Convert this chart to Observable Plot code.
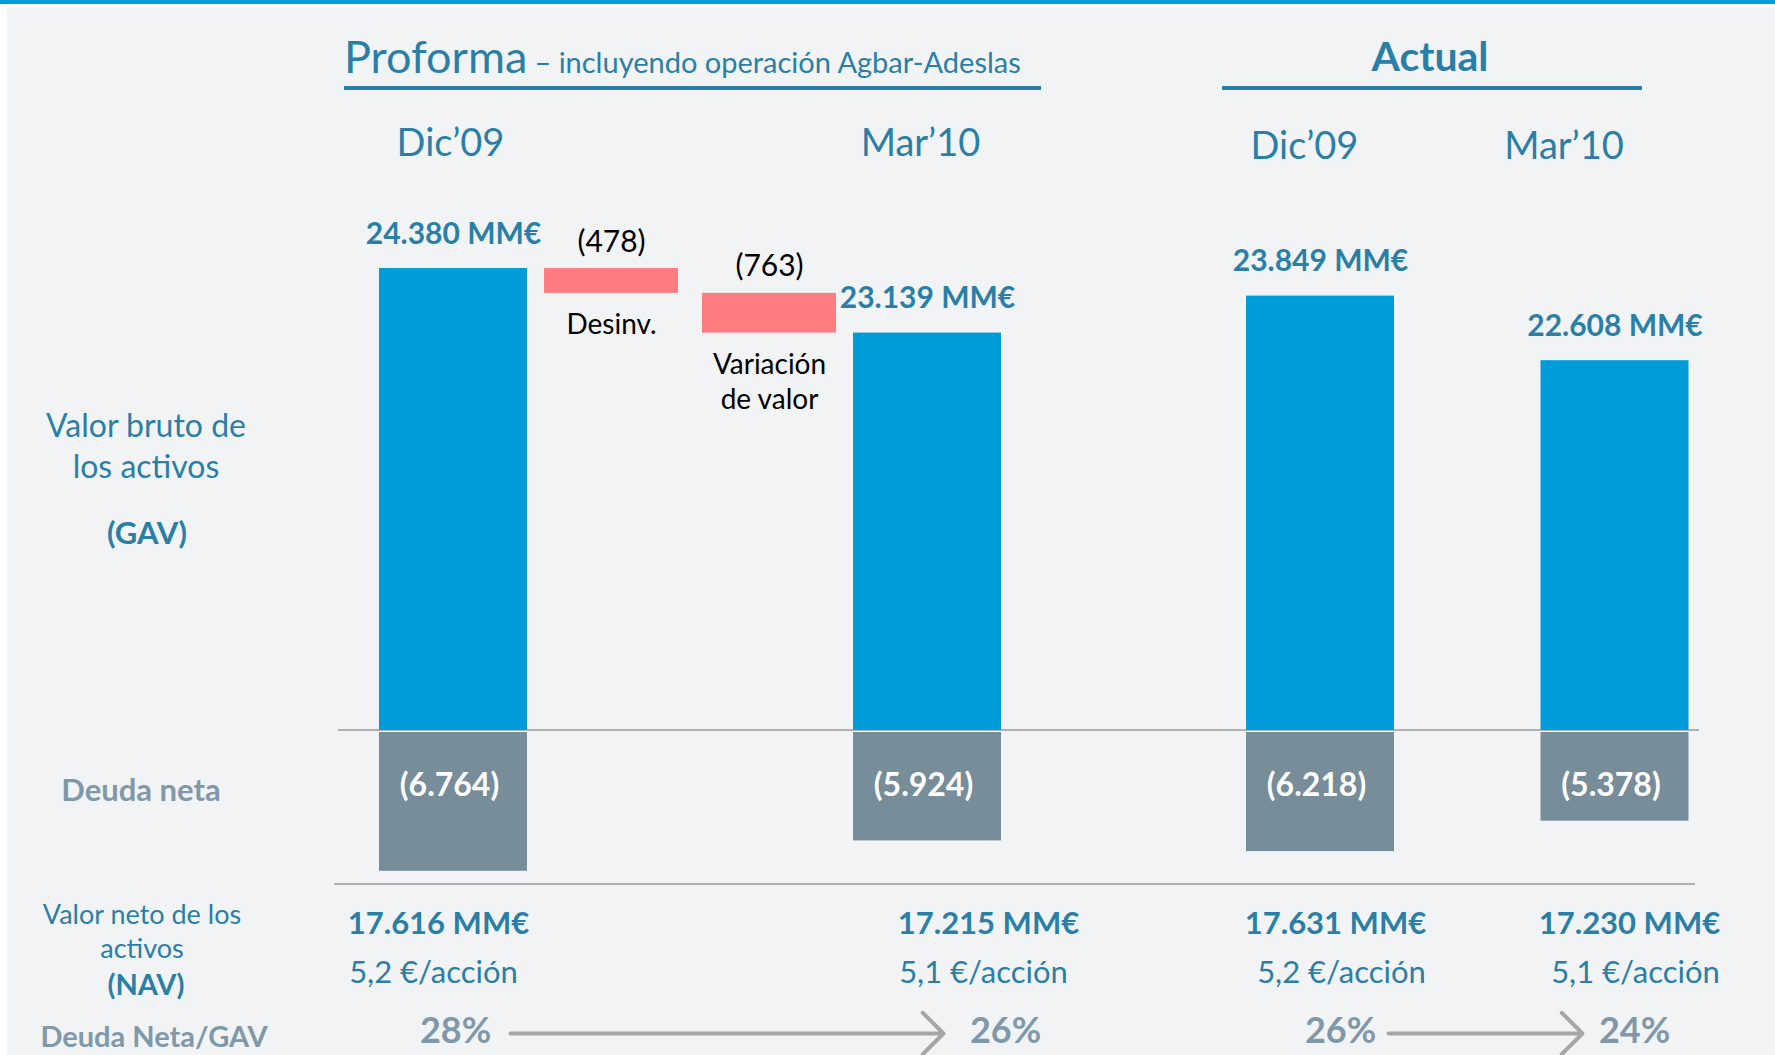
<!DOCTYPE html>
<html>
<head>
<meta charset="utf-8">
<script src="https://cdn.jsdelivr.net/npm/d3@7"></script>
<script src="https://cdn.jsdelivr.net/npm/@observablehq/plot@0.6"></script>
<style>
  html, body { margin: 0; padding: 0; background: #ffffff; }
  #root { position: relative; width: 1775px; height: 1055px; overflow: hidden; background: #ffffff; font-family: Lato, "Open Sans", sans-serif; }
  .holder { position: absolute; }
</style>
</head>
<body>
<div id="root"></div>
<script>
// ---------------- DATA ----------------
const groups = ["Proforma", "Actual"];
const periods = ["Dic’09", "Mar’10"];
// order: Proforma Dic'09, Proforma Mar'10, Actual Dic'09, Actual Mar'10
const gavValues = [24380, 23139, 23849, 22608];        // MM€
const netDebtValues = [6764, 5924, 6218, 5378];        // MM€
const navValues = [17616, 17215, 17631, 17230];        // MM€
const navPerShare = [5.2, 5.1, 5.2, 5.1];              // €/acción
const debtToGav = [28, 26, 26, 24];                    // %
const bridgeSteps = ["Desinv.", "Variación\nde valor"];
const bridgeValues = [-478, -763];                     // MM€

// ---------------- STYLE ----------------
const BLUE = "#009bd9", RED = "#ff7c80", DEBT = "#778d9a";
const TEAL = "#2a7fa6", GREY = "#7f98aa", ARROW = "#a6a6a6";
const FONT = "Lato, 'Open Sans', sans-serif";

const es = d3.formatLocale({decimal: ",", thousands: ".", grouping: [3], currency: ["", "€"]});
const fInt = es.format(",d");
const f1 = es.format(".1f");

const rows = gavValues.map((v, i) => ({
  group: groups[Math.floor(i / 2)],
  period: periods[i % 2],
  gav: v,
  debt: netDebtValues[i],
  nav: navValues[i],
  perShare: navPerShare[i],
  ratio: debtToGav[i]
}));

// waterfall (proforma bridge Dic'09 -> Mar'10)
let running = rows[0].gav;
const bridge = bridgeSteps.map((s, i) => {
  const start = running;
  running += bridgeValues[i];
  return {col: s, start, end: running, delta: bridgeValues[i]};
});

const root = document.getElementById("root");

// ---------------- BACKGROUND / LABELS ----------------
const bg = d3.select(root).append("svg")
  .attr("width", 1775).attr("height", 1055)
  .style("position", "absolute").style("left", "0px").style("top", "0px")
  .style("font-family", FONT);
bg.append("rect").attr("width", 1775).attr("height", 1055).attr("fill", "#ffffff");
bg.append("rect").attr("width", 1775).attr("height", 4).attr("fill", "#009cda");
bg.append("rect").attr("x", 7).attr("y", 7).attr("width", 1768).attr("height", 1048).attr("fill", "#f2f3f5");

const head = bg.append("text").attr("x", 344).attr("y", 73).attr("fill", TEAL);
head.append("tspan").attr("font-size", 45).text(groups[0]);
head.append("tspan").attr("font-size", 29).attr("dx", 7).text("– incluyendo operación Agbar-Adeslas");
bg.append("rect").attr("x", 344).attr("y", 86).attr("width", 697).attr("height", 4).attr("fill", TEAL);
bg.append("text").attr("x", 1430).attr("y", 71).attr("text-anchor", "middle")
  .attr("font-size", 41).attr("font-weight", "bold").attr("fill", TEAL).text(groups[1]);
bg.append("rect").attr("x", 1222).attr("y", 86).attr("width", 420).attr("height", 4).attr("fill", TEAL);

bg.append("line").attr("x1", 338).attr("x2", 1699).attr("y1", 730).attr("y2", 730)
  .attr("stroke", "#9b9b9b").attr("stroke-width", 1.6);
bg.append("line").attr("x1", 334).attr("x2", 1695).attr("y1", 884).attr("y2", 884)
  .attr("stroke", "#9b9b9b").attr("stroke-width", 1.6);

// multi-line row labels, each one a single text element
const rowLabels = [
  {lines: ["Valor bruto de", "los activos"], x: 146, y: 437, gap: 41, s: 32, w: "normal", c: TEAL},
  {lines: ["(GAV)"], x: 147, y: 544, gap: 0, s: 31, w: "bold", c: TEAL},
  {lines: ["Deuda neta"], x: 141, y: 801, gap: 0, s: 31, w: "bold", c: GREY},
  {lines: ["Valor neto de los", "activos"], x: 142, y: 924, gap: 34, s: 27, w: "normal", c: TEAL},
  {lines: ["(NAV)"], x: 146, y: 995, gap: 0, s: 29, w: "bold", c: TEAL},
  {lines: ["Deuda Neta/GAV"], x: 154, y: 1047, gap: 0, s: 29, w: "bold", c: GREY}
];
rowLabels.forEach(l => {
  const t = bg.append("text").attr("x", l.x).attr("y", l.y).attr("text-anchor", "middle")
    .attr("font-size", l.s).attr("font-weight", l.w).attr("fill", l.c);
  l.lines.forEach((line, i) => t.append("tspan").attr("x", l.x).attr("dy", i ? l.gap : 0).text(line));
});

// ---------------- PLOTS ----------------
const baseStyle = {background: "transparent", overflow: "visible", fontFamily: FONT};

function place(node, left, top) {
  const d = document.createElement("div");
  d.className = "holder";
  d.style.left = left + "px";
  d.style.top = top + "px";
  d.appendChild(node);
  root.appendChild(d);
}

const groupCfg = [
  {name: groups[0], cols: [periods[0], ...bridgeSteps, periods[1]], left: 0, width: 1100,
   ml: 379, mr: 99, pi: 0.0633, headDx: [-3, -7], headDy: -113,
   bml: 441, bmr: 109, navDx: -3, shareDx: -8, ratioDx: 14, insetStart: 69, insetEnd: 48, withBridge: true},
  {name: groups[1], cols: periods, left: 1100, width: 675,
   ml: 146, mr: 86.5, pi: 0.4975, headDx: [-16, -51], headDy: -110,
   bml: 235, bmr: 146, navDx: 0, shareDx: 6, ratioDx: 5, insetStart: 53, insetEnd: 47, withBridge: false}
];

groupCfg.forEach(cfg => {
  const data = rows.filter(d => d.group === cfg.name);

  // --- GAV panel ---
  const gavMarks = [
    Plot.barY(data, {x: "period", y: "gav", fill: BLUE}),
    ...periods.map((p, i) => Plot.text(data.filter(d => d.period === p), {x: "period", text: "period",
      frameAnchor: "top", lineAnchor: "bottom", dy: cfg.headDy, dx: cfg.headDx[i], fontSize: 38, fill: TEAL})),
    Plot.text(data, {x: "period", y: "gav", text: d => fInt(d.gav) + " MM€", lineAnchor: "bottom",
      dy: -25, fontSize: 30, fontWeight: "bold", fill: TEAL})
  ];
  if (cfg.withBridge) {
    gavMarks.push(
      Plot.barY(bridge, {x: "col", y1: "start", y2: "end", fill: RED, insetLeft: 7, insetRight: 7}),
      Plot.text(bridge, {x: "col", y: "start", text: d => `(${fInt(-d.delta)})`, lineAnchor: "bottom",
        dy: -17, fontSize: 30, fill: "#000000"}),
      Plot.text(bridge, {x: "col", y: "end", text: "col", lineAnchor: "top", dy: 16,
        fontSize: 28, lineHeight: 1.25, fill: "#000000"})
    );
  }
  const gavChart = Plot.plot({
    width: cfg.width, height: 630,
    marginTop: 168, marginBottom: 0, marginLeft: cfg.ml, marginRight: cfg.mr,
    x: {domain: cfg.cols, paddingInner: cfg.pi, paddingOuter: 0, round: false, axis: null},
    y: {domain: [15500, 24380], clamp: true, axis: null},
    style: baseStyle,
    marks: gavMarks
  });
  place(gavChart, cfg.left, 100);

  // --- Net debt panel ---
  const debtChart = Plot.plot({
    width: cfg.width, height: 150,
    marginTop: 4, marginBottom: 7.2, marginLeft: cfg.ml, marginRight: cfg.mr,
    x: {domain: cfg.cols, paddingInner: cfg.pi, paddingOuter: 0, round: false, axis: null},
    y: {domain: [2926, 6764], reverse: true, clamp: true, axis: null},
    style: baseStyle,
    marks: [
      Plot.barY(data, {x: "period", y: "debt", fill: DEBT}),
      Plot.text(data, {x: "period", text: d => `(${fInt(d.debt)})`, frameAnchor: "top", lineAnchor: "bottom",
        dx: -4, dy: 63, fontSize: 32, fontWeight: "bold", fill: "#ffffff"})
    ]
  });
  place(debtChart, cfg.left, 728);

  // --- NAV / ratio rows ---
  const rowChart = Plot.plot({
    width: cfg.width, height: 175,
    marginTop: 53, marginBottom: 13, marginLeft: cfg.bml, marginRight: cfg.bmr,
    x: {type: "point", domain: periods, padding: 0, round: false, axis: null},
    y: {type: "point", domain: ["nav", "share", "ratio"], padding: 0, round: false, axis: null},
    style: baseStyle,
    marks: [
      Plot.text(data, {x: "period", y: () => "nav", text: d => fInt(d.nav) + " MM€", lineAnchor: "bottom",
        dx: cfg.navDx, fontSize: 31, fontWeight: "bold", fill: TEAL}),
      Plot.text(data, {x: "period", y: () => "share", text: d => f1(d.perShare) + " €/acción", lineAnchor: "bottom",
        dx: cfg.shareDx, dy: -5, fontSize: 31, fill: TEAL}),
      Plot.text(data, {x: "period", y: () => "ratio", text: d => d.ratio + "%", lineAnchor: "bottom",
        dx: cfg.ratioDx, fontSize: 36, fontWeight: "bold", fill: GREY}),
      Plot.arrow([{from: periods[0], to: periods[1]}], {x1: "from", x2: "to", y1: () => "ratio", y2: () => "ratio",
        dy: -9, stroke: ARROW, strokeWidth: 4, headLength: 11, headAngle: 90,
        insetStart: cfg.insetStart, insetEnd: cfg.insetEnd})
    ]
  });
  place(rowChart, cfg.left, 880);
});
</script>
</body>
</html>
